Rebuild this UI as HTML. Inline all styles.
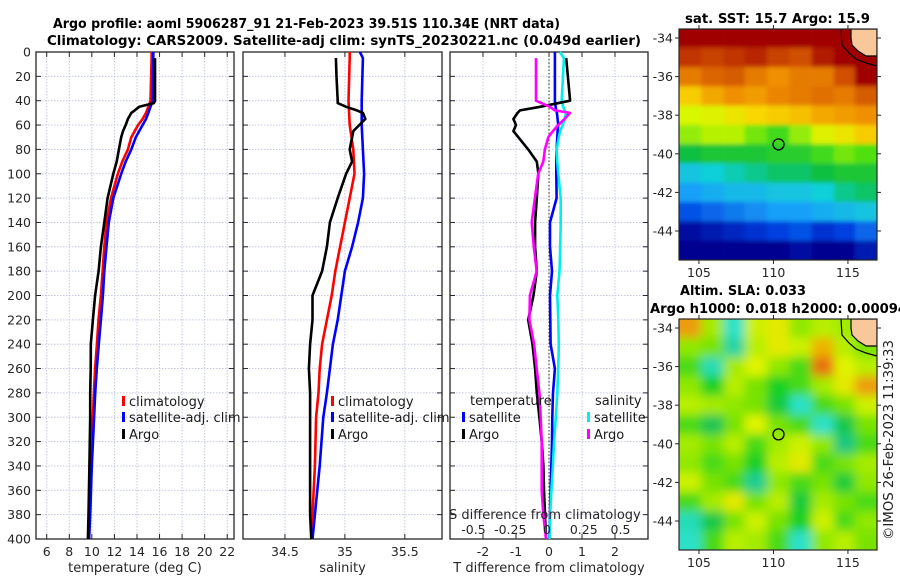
<!DOCTYPE html>
<html><head><meta charset="utf-8"><style>
html,body{margin:0;padding:0;background:#fff;}
svg{display:block;font-family:"DejaVu Sans","Liberation Sans",sans-serif;}
</style></head><body>
<svg id="c" width="900" height="580" viewBox="0 0 900 580" xmlns="http://www.w3.org/2000/svg">
<defs>
<filter id="blurSST" x="-5%" y="-5%" width="110%" height="110%"><feGaussianBlur stdDeviation="2"/></filter>
<filter id="blurSLA" x="-5%" y="-5%" width="110%" height="110%"><feGaussianBlur stdDeviation="5"/></filter>
<clipPath id="clipTop"><rect x="679" y="29" width="198" height="231"/></clipPath>
<clipPath id="clipBot"><rect x="679" y="319" width="198" height="231"/></clipPath>
</defs>
<text x="53" y="28" font-size="13" font-weight="bold" textLength="507" lengthAdjust="spacingAndGlyphs">Argo profile: aoml 5906287_91 21-Feb-2023 39.51S 110.34E (NRT data)</text>
<text x="47" y="45" font-size="13" font-weight="bold" textLength="594" lengthAdjust="spacingAndGlyphs">Climatology: CARS2009. Satellite-adj clim: synTS_20230221.nc (0.049d earlier)</text>
<text x="685" y="23" font-size="13" font-weight="bold" textLength="185" lengthAdjust="spacingAndGlyphs">sat. SST: 15.7 Argo: 15.9</text>
<text x="680" y="295" font-size="13" font-weight="bold" textLength="126" lengthAdjust="spacingAndGlyphs">Altim. SLA: 0.033</text>
<text x="650" y="313" font-size="13" font-weight="bold" textLength="257" lengthAdjust="spacingAndGlyphs">Argo h1000: 0.018 h2000: 0.00094</text>
<text transform="translate(893,540) rotate(-90)" font-size="13" fill="#222" textLength="200" lengthAdjust="spacingAndGlyphs">©IMOS 26-Feb-2023 11:39:33</text>
</svg>
<script>
// ---------- profile data ----------
const depthT = [0,5,40,45,50,55,60,65,70,80,90,100,120,140,160,180,200,220,240,260,280,300,340,380,400];
const tempClim = [15.3,15.3,15.2,15.0,14.8,14.5,14.1,13.8,13.5,13.2,12.7,12.3,11.7,11.3,11.1,10.95,10.8,10.59,10.45,10.29,10.18,10.09,9.91,9.82,9.76];
const tempSat  = [15.45,15.45,15.4,15.2,15.0,14.8,14.5,14.2,13.9,13.5,13.0,12.6,11.9,11.5,11.3,11.1,10.98,10.8,10.62,10.44,10.3,10.2,10.0,9.85,9.76];
const depthArgo = [5,20,40,42,45,48,50,55,60,65,70,80,90,100,120,140,160,180,200,220,240,260,280,300,340,380,400];
const tempArgo = [15.6,15.6,15.6,15.5,14.2,13.8,13.5,13.2,13.0,12.76,12.6,12.4,12.2,11.9,11.4,11.1,10.8,10.6,10.29,10.09,9.91,9.9,9.85,9.85,9.78,9.7,9.65];

const depthS = [0,5,40,60,80,100,120,140,160,180,200,220,240,260,280,300,340,380,400];
const salClim = [35.04,35.04,35.03,35.04,35.07,35.08,35.04,35.0,34.96,34.92,34.89,34.85,34.81,34.79,34.78,34.76,34.75,34.73,34.72];
const salSat  = [35.125,35.15,35.14,35.14,35.15,35.16,35.15,35.11,35.06,35.0,34.97,34.94,34.9,34.875,34.85,34.82,34.79,34.75,34.73];
const salArgo = [34.925,34.93,34.94,34.94,35.01,35.1,35.15,35.17,35.12,35.07,35.06,35.04,35.06,35.01,34.94,34.875,34.85,34.81,34.73,34.73,34.71,34.70,34.71,34.71,34.71,34.71,34.72];

const depthD = [0,5,40,45,48,50,55,60,65,70,80,90,100,120,140,160,180,200,220,240,260,280,300,320,340,360,380,400];
const tDiffArgo = [null,0.52,0.64,-0.27,-0.88,-0.95,-1.08,-1.0,-1.08,-0.93,-0.63,-0.37,-0.32,-0.37,-0.42,-0.42,-0.37,-0.47,-0.63,-0.5,-0.42,-0.37,-0.29,-0.22,-0.17,-0.15,-0.12,-0.09];
const tDiffSat  = [0.18,0.18,0.18,0.2,0.22,0.24,0.26,0.28,0.26,0.25,0.23,0.22,0.22,0.23,0.03,0.03,0.09,0.03,0.04,0.05,0.18,0.12,0.1,0.09,0.07,0.05,0.03,0.01];
const sDiffArgo = [null,-0.075,-0.075,0.02,0.054,0.156,0.12,0.077,0.04,0.009,-0.014,-0.025,-0.06,-0.082,-0.104,-0.09,-0.07,-0.116,-0.12,-0.088,-0.07,-0.052,-0.043,-0.036,-0.036,-0.036,-0.025,-0.007];
const sDiffSat  = [0.088,0.115,0.1,0.11,0.12,0.13,0.12,0.107,0.09,0.08,0.066,0.07,0.077,0.093,0.093,0.09,0.085,0.07,0.077,0.08,0.077,0.07,0.06,0.048,0.04,0.03,0.022,0.016];

const depthTicks = [0,20,40,60,80,100,120,140,160,180,200,220,240,260,280,300,320,340,360,380,400];
const tempTicks = [6,8,10,12,14,16,18,20,22];
const salTicks = [34.5,35,35.5];
const tDiffTicks = [-2,-1,0,1,2];
const sDiffTickVals = [-0.5,-0.25,0,0.25,0.5];
const sDiffTickLabels = ["-0.5","-0.25","0","0.25","0.5"];

// ---------- map data ----------
const mapLatCenters = [-34,-35,-36,-37,-38,-39,-40,-41,-42,-43,-44,-45];
const mapLonCenters = [104.4,105.9,107.4,108.8,110.3,111.8,113.3,114.8,116.2];
const sstGrid = [
 [18,18,18,18,18,18,18,18,18],
 [17.6,17.5,17.6,17.7,17.5,17.4,17.8,18,18],
 [17.0,17.2,17.3,17.0,16.8,17.0,17.0,17.4,18],
 [16.3,16.6,16.8,16.7,16.9,17.0,17.1,17.0,17.3],
 [15.7,15.8,16.0,16.2,16.3,16.4,16.6,16.7,16.8],
 [15.5,15.6,15.6,15.4,15.2,15.5,15.8,16.0,16.3],
 [14.8,14.9,14.9,14.9,15.0,15.0,15.2,15.4,15.3],
 [14.3,14.4,14.5,14.6,14.7,14.7,14.8,14.9,14.9],
 [14.0,14.1,14.2,14.2,14.3,14.3,14.4,14.6,14.7],
 [13.6,13.7,13.8,13.9,14.0,14.0,14.1,14.2,14.3],
 [13.1,13.2,13.3,13.4,13.5,13.6,13.4,13.5,13.7],
 [12.9,12.9,13.0,13.0,13.0,13.1,12.9,13.0,13.2]
];
const slaGrid = [
 [0.15,0.06,-0.11,0.08,0.10,0.05,0.07,0.06,0.05],
 [0.05,0.04,-0.09,0.07,0.10,0.08,0.14,0.07,0.04],
 [0.02,-0.10,0.06,0.09,0.05,0.02,0.17,0.09,0.07],
 [0.05,0.00,0.07,0.04,0.00,0.02,0.06,0.10,0.15],
 [0.07,0.06,0.05,0.04,-0.02,-0.11,0.02,0.04,0.08],
 [0.02,-0.04,0.04,0.09,0.04,0.02,-0.11,-0.03,0.04],
 [0.06,0.04,0.07,0.02,0.06,0.08,0.05,-0.07,0.02],
 [0.05,0.02,0.04,0.00,0.07,0.10,0.02,0.04,0.06],
 [0.08,0.04,0.02,-0.08,0.05,0.02,0.04,-0.02,0.05],
 [0.02,0.06,0.10,0.04,0.07,-0.02,0.06,0.04,0.02],
 [-0.10,-0.03,0.04,0.08,0.04,0.00,0.08,0.02,0.05],
 [-0.11,0.02,0.07,0.06,0.02,-0.11,0.05,0.07,0.04]
];
const mapLatTicks = [-34,-36,-38,-40,-42,-44];
const mapLonTicks = [105,110,115];
const argoLon = 110.34, argoLat = -39.51;

const NS = "http://www.w3.org/2000/svg";
const svg = document.getElementById('c');
function mk(tag, attrs, parent){ const e=document.createElementNS(NS,tag); for(const k in attrs) e.setAttribute(k,attrs[k]); (parent||svg).appendChild(e); return e; }

const Y0=52, Y1=539;
const yDepth = d => Y0 + (d/400)*(Y1-Y0);

const panels = [
 {name:'temperature', x0:36, x1:234, dom:[5.05,22.6]},
 {name:'salinity', x0:243, x1:442, dom:[34.15,35.81]},
 {name:'difference', x0:450, x1:648, dom:[-3,3]}
];
function xs(p){ return v => p.x0 + (v-p.dom[0])/(p.dom[1]-p.dom[0])*(p.x1-p.x0); }
const xT = xs(panels[0]), xS = xs(panels[1]), xTd = xs(panels[2]);
const xSd = v => 547 + v*147;

function drawPanelFrame(p, xticks, xfun, labels, label){
  const g = mk('g',{});
  
  
  xticks.forEach(t=>{ mk('line',{x1:xfun(t),x2:xfun(t),y1:Y0,y2:Y1,stroke:'#c4c8e6','stroke-width':1,'stroke-dasharray':'1.5,1.5'},g); });
  depthTicks.forEach(d=>{ mk('line',{x1:p.x0,x2:p.x1,y1:yDepth(d),y2:yDepth(d),stroke:'#c4c8e6','stroke-width':1,'stroke-dasharray':'1.5,1.5'},g); });
  depthTicks.forEach(d=>{
    mk('line',{x1:p.x0,x2:p.x0+5,y1:yDepth(d),y2:yDepth(d),stroke:'#262626'},g);
    mk('line',{x1:p.x1-5,x2:p.x1,y1:yDepth(d),y2:yDepth(d),stroke:'#262626'},g);
  });
  xticks.forEach((t,i)=>{
    mk('line',{x1:xfun(t),x2:xfun(t),y1:Y1,y2:Y1-5,stroke:'#262626'},g);
    mk('line',{x1:xfun(t),x2:xfun(t),y1:Y0,y2:Y0+5,stroke:'#262626'},g);
    const tx=mk('text',{x:xfun(t),y:Y1+17,'font-size':12.5,'text-anchor':'middle',fill:'#262626'},g); tx.textContent=labels[i];
     
  });
  mk('rect',{x:p.x0,y:Y0,width:p.x1-p.x0,height:Y1-Y0,fill:'none',stroke:'#262626','stroke-width':1.3},g);
  const xl=mk('text',{x:(p.x0+p.x1)/2,y:572,'font-size':13,'text-anchor':'middle',fill:'#262626'},g); xl.textContent=label;
   
}
drawPanelFrame(panels[0], tempTicks, xT, tempTicks.map(String), 'temperature (deg C)');
drawPanelFrame(panels[1], salTicks, xS, salTicks.map(String), 'salinity');
drawPanelFrame(panels[2], tDiffTicks, xTd, tDiffTicks.map(String), 'T difference from climatology');

depthTicks.forEach(d=>{ const t=mk('text',{x:31,y:yDepth(d)+4.5,'font-size':12.5,'text-anchor':'end',fill:'#262626'}); t.textContent=String(d);
    });

function line(depths, vals, xf, color, name, w){
  let d=''; let started=false;
  depths.forEach((dep,i)=>{ const v=vals[i]; if(v===null||v===undefined) return; d += (started?'L':'M') + xf(v).toFixed(1)+','+yDepth(dep).toFixed(1); started=true; });
  const p=mk('path',{d:d,fill:'none',stroke:color,'stroke-width':w||2.6,'stroke-linejoin':'round'});
  
  
}
const z=mk('line',{x1:xTd(0),x2:xTd(0),y1:Y0,y2:Y1,stroke:'#555533','stroke-width':1.2,'stroke-dasharray':'1.5,2'});
 

line(depthT, tempClim, xT, '#ff0000', 'temp-climatology-line');
line(depthT, tempSat, xT, '#0000ff', 'temp-satellite-line');
line(depthArgo, tempArgo, xT, '#000000', 'temp-argo-line');
line(depthS, salClim, xS, '#ff0000', 'sal-climatology-line');
line(depthS, salSat, xS, '#0000ff', 'sal-satellite-line');
line(depthArgo, salArgo, xS, '#000000', 'sal-argo-line');
line(depthD, tDiffSat, xTd, '#0000ff', 'tdiff-satellite-line');
line(depthD, sDiffSat, xSd, '#00eeee', 'sdiff-satellite-line');
line(depthD, tDiffArgo, xTd, '#000000', 'tdiff-argo-line');
line(depthD, sDiffArgo, xSd, '#ff00ff', 'sdiff-argo-line');

const st=mk('text',{x:449,y:519,'font-size':13,fill:'#262626'}); st.textContent='S difference from climatology';
 
sDiffTickVals.forEach((v,i)=>{ const t=mk('text',{x:xSd(v),y:534,'font-size':12.5,'text-anchor':'middle',fill:'#262626'}); t.textContent=sDiffTickLabels[i];
    });

function legend(x, y, color, label, name){
  const g=mk('g',{});
  
  
  mk('rect',{x:x,y:y-10,width:3,height:10,fill:color},g);
  const t=mk('text',{x:x+7,y:y,'font-size':13,fill:'#1a1a1a'},g); t.textContent=label;
}
legend(122,406,'#ff0000','climatology','legend-temp-climatology');
legend(122,422,'#0000ff','satellite-adj. clim','legend-temp-satellite');
legend(122,439,'#000000','Argo','legend-temp-argo');
legend(331,406,'#ff0000','climatology','legend-sal-climatology');
legend(331,422,'#0000ff','satellite-adj. clim','legend-sal-satellite');
legend(331,439,'#000000','Argo','legend-sal-argo');
const lt=mk('text',{x:470,y:405,'font-size':13,fill:'#1a1a1a'}); lt.textContent='temperature';
 
const ls=mk('text',{x:595,y:405,'font-size':13,fill:'#1a1a1a'}); ls.textContent='salinity';
 
legend(462,422,'#0000ff','satellite','legend-tdiff-satellite');
legend(462,439,'#000000','Argo','legend-tdiff-argo');
legend(587,422,'#00eeee','satellite','legend-sdiff-satellite');
legend(587,439,'#ff00ff','Argo','legend-sdiff-argo');

// ---------- maps ----------
function lerpColor(stops, v){
  if(v<=stops[0][0]) return stops[0][1];
  if(v>=stops[stops.length-1][0]) return stops[stops.length-1][1];
  for(let i=0;i<stops.length-1;i++){
    const [a,ca]=stops[i],[b,cb]=stops[i+1];
    if(v>=a&&v<=b){ const t=(v-a)/(b-a);
      const pa=[1,3,5].map(k=>parseInt(ca.substr(k,2),16)), pb=[1,3,5].map(k=>parseInt(cb.substr(k,2),16));
      return 'rgb('+pa.map((c,j)=>Math.round(c+(pb[j]-c)*t)).join(',')+')'; }
  }
}
const sstStops=[[13.0,'#000090'],[13.5,'#0040e0'],[14.0,'#18a0f8'],[14.4,'#10d0d8'],[14.8,'#10c040'],[15.3,'#50e010'],[15.7,'#d8f800'],[16.2,'#f8d800'],[16.8,'#f09000'],[17.4,'#d05000'],[18,'#a00000']];
const slaStops=[[-0.12,'#30e8d8'],[-0.06,'#10c070'],[0,'#18d020'],[0.05,'#90e800'],[0.09,'#e0f400'],[0.13,'#f0c800'],[0.17,'#e87010']];

function drawMap(top, grid, stops, filter, clip, name, latTop){
  const X0=679, X1=877, Y_0=top, Y_1=top+231;
  const lonMin=103.66, lonMax=116.95;
  const lonX = lon => X0 + (lon-lonMin)/(lonMax-lonMin)*(X1-X0);
  const latY = lat => latTop + (-34-lat)*19.3;
  const outer=mk('g',{'clip-path':'url(#'+clip+')'});
  
  
  const g=mk('g',{filter:'url(#'+filter+')'},outer);
  const cw=(X1-X0)/mapLonCenters.length, ch=19.3;
  grid.forEach((row,r)=>row.forEach((v,c)=>{
    let x=lonX(mapLonCenters[c])-cw/2, y=latY(mapLatCenters[r])-ch/2, w=cw+0.6, h=ch+0.6;
    if(c===0){x-=20;w+=20;} if(c===row.length-1){w+=20;}
    if(r===0){y-=20;h+=20;} if(r===grid.length-1){h+=20;}
    const rc=mk('rect',{x:x,y:y,width:w,height:h,fill:lerpColor(stops,v)},g);
    
    
  }));
  const dy=Y_0-29;
  const land=mk('path',{d:`M851,${29+dy} L877,${29+dy} L877,${56+dy} L866,${56+dy} L858,${51+dy} L852,${45+dy} L851,${38+dy} Z`,fill:'#f9c89a',stroke:'#000','stroke-width':1.2},outer);
   
  const shelf=mk('path',{d:`M841,${29+dy} L842,${45+dy} L849,${53+dy} L856,${59+dy} L866,${63+dy} L877,${66+dy}`,fill:'none',stroke:'#000','stroke-width':1.2},outer);
   
  mk('rect',{x:X0,y:Y_0,width:X1-X0,height:Y_1-Y_0,fill:'none',stroke:'#262626','stroke-width':1.2});
  mapLatTicks.forEach(l=>{ const y=latY(l);
    mk('line',{x1:X0-4,x2:X0,y1:y,y2:y,stroke:'#262626'}); mk('line',{x1:X1,x2:X1+4,y1:y,y2:y,stroke:'#262626'});
    const t=mk('text',{x:X0-6,y:y+4.5,'font-size':12.5,'text-anchor':'end',fill:'#262626'}); t.textContent=String(l);
      });
  mapLonTicks.forEach(l=>{ const x=lonX(l);
    mk('line',{x1:x,x2:x,y1:Y_1,y2:Y_1+4,stroke:'#262626'}); mk('line',{x1:x,x2:x,y1:Y_0-4,y2:Y_0,stroke:'#262626'});
    const t=mk('text',{x:x,y:Y_1+17,'font-size':12.5,'text-anchor':'middle',fill:'#262626'}); t.textContent=String(l);
      });
  const circ=mk('circle',{cx:lonX(argoLon),cy:latY(argoLat),r:5.5,fill:'none',stroke:'#000','stroke-width':1.3});
   
}
drawMap(29, sstGrid, sstStops, 'blurSST', 'clipTop', 'sst-map', 38);
drawMap(319, slaGrid, slaStops, 'blurSLA', 'clipBot', 'sla-map', 328);
</script>
</body></html>
